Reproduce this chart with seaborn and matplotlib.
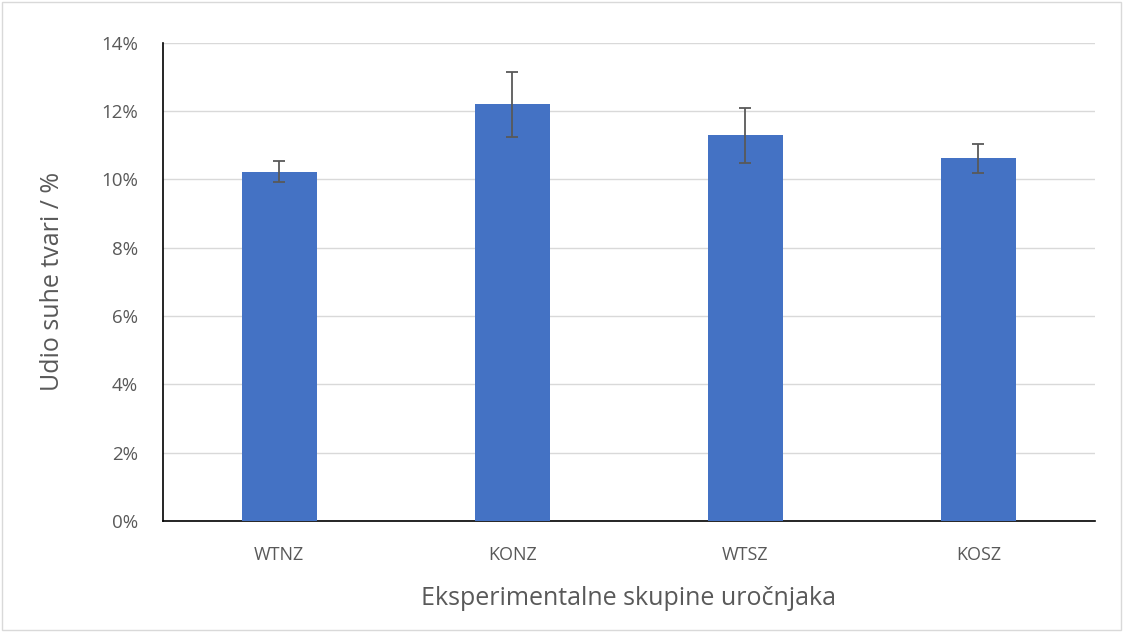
import numpy as np
import pandas as pd
import matplotlib
matplotlib.use("Agg")
import matplotlib.pyplot as plt
import seaborn as sns
from matplotlib.ticker import FuncFormatter
from matplotlib.patches import Rectangle

# data
groups = ["WTNZ", "KONZ", "WTSZ", "KOSZ"]
mean_pct = [10.23, 12.20, 11.29, 10.62]
err_pct = [0.30, 0.95, 0.80, 0.43]

df = pd.DataFrame({"skupina": groups, "udio": mean_pct})

sns.set_theme(style="white")
plt.rcParams["font.family"] = ["Open Sans", "DejaVu Sans"]

fig = plt.figure(figsize=(11.23, 6.32), dpi=100)
ax = fig.add_axes([0.145, 0.176, 0.83, 0.756])

sns.barplot(data=df, x="skupina", y="udio", color="#4472C4", width=0.32,
            saturation=1, linewidth=0, ax=ax, zorder=3)
ax.errorbar(np.arange(len(groups)), mean_pct, yerr=err_pct, fmt="none",
            ecolor="#595959", elinewidth=1.3, capsize=4.5, capthick=1.3, zorder=4)

ax.set_xlim(-0.5, len(groups) - 0.5)
ax.set_ylim(0, 14)
ax.set_yticks(np.arange(0, 15, 2))
ax.yaxis.set_major_formatter(FuncFormatter(lambda v, p: f"{v:.0f}%"))
ax.grid(axis="y", color="#D9D9D9", linewidth=1, zorder=0)
ax.set_axisbelow(True)

for s in ["top", "right"]:
    ax.spines[s].set_visible(False)
ax.spines["left"].set_color("black")
ax.spines["bottom"].set_color("black")
ax.spines["left"].set_linewidth(1.2)
ax.spines["bottom"].set_linewidth(1.2)

ax.tick_params(axis="y", colors="#595959", labelsize=13.5, length=0, pad=18)
ax.tick_params(axis="x", colors="#595959", labelsize=13, length=0, pad=18)
ax.set_xlabel("Eksperimentalne skupine uročnjaka", fontsize=18, color="#595959", labelpad=16)
ax.set_ylabel("Udio suhe tvari / %", fontsize=18, color="#595959", labelpad=26)

fig.patches.append(Rectangle((0.002, 0.003), 0.996, 0.994, transform=fig.transFigure,
                             fill=False, edgecolor="#D9D9D9", linewidth=1))

fig.savefig("out.png", dpi=100)
